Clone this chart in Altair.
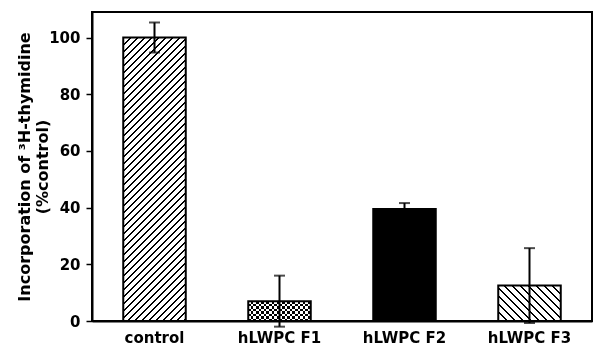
import altair as alt
import pandas as pd

# ---- data ----
groups = ["control", "hLWPC F1", "hLWPC F2", "hLWPC F3"]
means = [100, 7, 39.5, 12.5]
errors = [5.3, 9, 2.1, 13.2]
y_ticks = [0, 20, 40, 60, 80, 100]
y_title = ["Incorporation of \u00b3H-thymidine", "(%control)"]

df = pd.DataFrame({"group": groups, "mean": means, "err": errors})
df["lo"] = df["mean"] - df["err"]
df["hi"] = df["mean"] + df["err"]

# ---- layout ----
W_PLOT, H_PLOT = 500, 309
Y_MAX = 109
PAD_INNER, PAD_OUTER = 0.5, 0.25
step = W_PLOT / (len(groups) - PAD_INNER + 2 * PAD_OUTER)
bw = step * (1 - PAD_INNER)
pxu = H_PLOT / Y_MAX
FONT = "DejaVu Sans"


def stripe_stops(n, frac, on="black", off="white"):
    stops = []
    k = 0
    while k / n < 1:
        a = k / n
        b = min((k + frac) / n, 1)
        e = min((k + 1) / n, 1)
        stops += [
            {"offset": a, "color": on},
            {"offset": b, "color": on},
            {"offset": b, "color": off},
            {"offset": e, "color": off},
        ]
        k += 1
    return stops


def diag(w, h, period, frac, direction):
    c = (w + h) / (w * w + h * h)
    n = (w + h) / period
    if direction == "/":
        x1, y1, x2, y2 = 0, 0, c * w, c * h
    else:
        x1, y1, x2, y2 = 0, 1, c * w, 1 - c * h
    return {"gradient": "linear", "x1": x1, "y1": y1, "x2": x2, "y2": y2,
            "stops": stripe_stops(n, frac)}


def lin(n, vertical, on, off):
    if vertical:
        x1, y1, x2, y2 = 0, 0, 1, 0
    else:
        x1, y1, x2, y2 = 0, 0, 0, 1
    return {"gradient": "linear", "x1": x1, "y1": y1, "x2": x2, "y2": y2,
            "stops": stripe_stops(n, 0.5, on, off)}


heights = [m * pxu for m in means]

fills = [
    diag(bw, heights[0], 7.0, 0.26, "/"),
    lin(bw / 5.2, True, "black", "white"),
    "black",
    diag(bw, heights[3], 8.0, 0.25, "\\"),
]

x_enc = alt.X(
    "group:N",
    sort=groups,
    title=None,
    scale=alt.Scale(paddingInner=PAD_INNER, paddingOuter=PAD_OUTER),
    axis=alt.Axis(labelAngle=0, ticks=False, labelPadding=9, domain=True,
                  domainWidth=2, domainColor="black"),
)
y_scale = alt.Scale(domain=[0, Y_MAX], nice=False, zero=True)
y_enc = alt.Y(
    "mean:Q",
    scale=y_scale,
    axis=alt.Axis(
        values=y_ticks, grid=False, tickSize=6, tickWidth=1.5, tickColor="black",
        domainWidth=2, domainColor="black", labelPadding=6,
        title=y_title, titleFont=FONT, titleFontSize=16, titleFontWeight="bold",
        titleColor="black", titleAngle=270, titleX=-60, titleY=H_PLOT / 2,
        titleBaseline="bottom", titleAlign="center", titleLineHeight=18,
    ),
)

base = alt.Chart(df)
layers = []
for g, f in zip(groups, fills):
    layers.append(
        base.transform_filter(alt.datum.group == g)
        .mark_bar(fill=f, stroke="black", strokeWidth=2)
        .encode(x=x_enc, y=y_enc)
    )

# checker overlay for F1 (horizontal bands combined by difference blend)
layers.append(
    base.transform_filter(alt.datum.group == groups[1])
    .mark_bar(fill=lin(heights[1] / 5.0, False, "white", "black"),
              stroke="black", strokeWidth=2, blend="difference")
    .encode(x=x_enc, y=y_enc)
)

err_rule = base.mark_rule(color="black", strokeWidth=2).encode(
    x=x_enc, y=alt.Y("lo:Q", scale=y_scale), y2="hi:Q"
)
cap_hi = base.mark_tick(color="black", thickness=2, size=11).encode(
    x=x_enc, y=alt.Y("hi:Q", scale=y_scale)
)
cap_lo = base.mark_tick(color="black", thickness=2, size=11).encode(
    x=x_enc, y=alt.Y("lo:Q", scale=y_scale)
)
layers += [err_rule, cap_hi, cap_lo]

chart = (
    alt.layer(*layers)
    .properties(
        width=W_PLOT, height=H_PLOT,
        autosize=alt.AutoSizeParams(type="none"),
        padding={"left": 92, "top": 12, "right": 3, "bottom": 28},
        background="white",
    )
    .configure_view(stroke="black", strokeWidth=2)
    .configure_axis(labelFont=FONT, labelFontSize=15, labelFontWeight="bold",
                    labelColor="black")
)

chart.save("out.html", embed_options={"renderer": "svg", "actions": False})
